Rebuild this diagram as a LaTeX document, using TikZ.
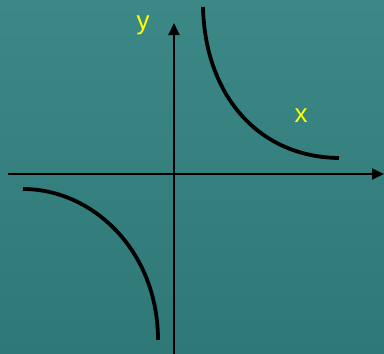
\documentclass[tikz,border=0pt]{standalone}
\usepackage{fontspec}
\setmainfont{Liberation Sans}
\usetikzlibrary{arrows.meta}
\definecolor{slate}{RGB}{60,136,134}
\definecolor{slatedark}{RGB}{46,121,119}
\definecolor{label}{RGB}{255,255,0}

\begin{document}
\begin{tikzpicture}[
  x=1pt, y=-1pt,
  axis/.style={-{Triangle[length=12pt, width=11pt]}, line width=1.8pt, black},
  branch/.style={line width=3.8pt, black},
  lbl/.style={text=label, font=\fontsize{26}{26}\selectfont, anchor=base, inner sep=0pt}
]
  \shade[top color=slate, bottom color=slatedark] (0,0) rectangle (384,354);
  \useasboundingbox (0,0) rectangle (384,354);
  % axes
  \coordinate (xstart) at (8,174);
  \coordinate (xend) at (384,174);
  \coordinate (ystart) at (174,354);
  \coordinate (yend) at (174,23);
  \draw[axis] (xstart) -- (xend);
  \draw[axis] (ystart) -- (yend);
  % branches
  \draw[branch] (203,7) .. controls (205,95) and (258,157) .. (339,158);
  \draw[branch] (23,189) .. controls (92,189) and (158,250) .. (158,340);
  % labels
  \node[lbl] (ylabel) at (143,29) {y};
  \node[lbl] (xlabel) at (301,122) {x};
\end{tikzpicture}
\end{document}
